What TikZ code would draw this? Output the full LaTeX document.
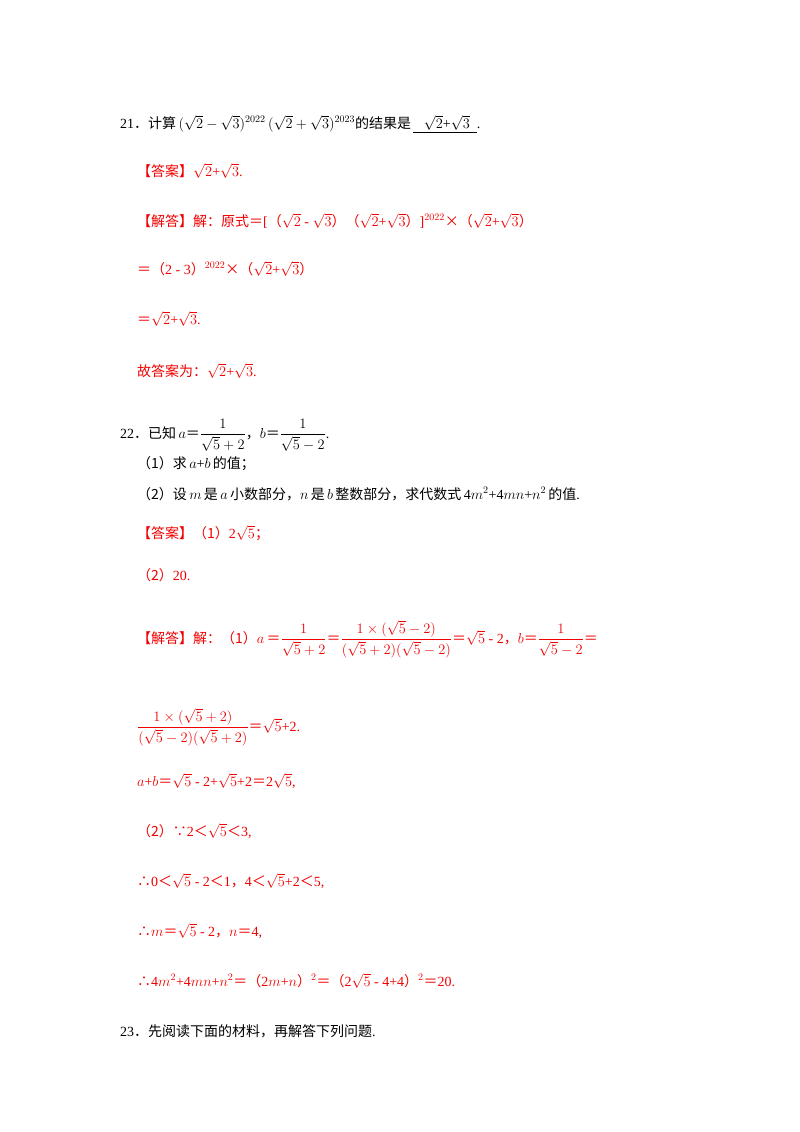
\documentclass[tikz,border=0pt]{standalone}
\usepackage{amsmath}
\usepackage{fontspec}
\setmainfont{Liberation Serif}
\newfontfamily\cjk{Noto Sans CJK SC}
\definecolor{ansred}{RGB}{240,0,0}
\newcommand{\zh}[1]{{\cjk #1}}
\newcommand{\EQ}{\zh{＝}}
\newcommand{\LT}{\zh{＜}}
\tikzset{ln/.style={anchor=base west,inner sep=0pt,font=\fontsize{14}{16}\selectfont},
  rd/.style={ln,text=ansred}}
\begin{document}
\begin{tikzpicture}[x=1pt,y=-1pt]
\useasboundingbox[fill=white] (0,0) rectangle (800,1132);
\node[ln] (q21) at (120,128) {21\zh{．计算}\,$(\sqrt{2}-\sqrt{3})^{2022}\,(\sqrt{2}+\sqrt{3})^{2023}$\zh{的结果是}\,\underline{\ \ \ $\sqrt{2}$+$\sqrt{3}$\ \ }.};
\node[rd] (a21) at (137,176) {\zh{【答案】}$\sqrt{2}$+$\sqrt{3}$.};
\node[rd] (s1) at (137,226) {\zh{【解答】解：原式}\EQ[\zh{（}$\sqrt{2}$ - $\sqrt{3}$\zh{）（}$\sqrt{2}$+$\sqrt{3}$\zh{）}]$^{\scriptstyle 2022}$\zh{×（}$\sqrt{2}$+$\sqrt{3}$\zh{）}};
\node[rd] (s2) at (137,274) {\EQ\zh{（}2 - 3\zh{）}$^{\scriptstyle 2022}$\zh{×（}$\sqrt{2}$+$\sqrt{3}$\zh{）}};
\node[rd] (s3) at (137,324) {\EQ$\sqrt{2}$+$\sqrt{3}$.};
\node[rd] (s4) at (137,376) {\zh{故答案为：}$\sqrt{2}$+$\sqrt{3}$.};
\node[ln] (q22) at (120,438) {22\zh{．已知}\,$a$\EQ$\dfrac{1}{\sqrt{5}+2}$\zh{，}$b$\EQ$\dfrac{1}{\sqrt{5}-2}$.};
\node[ln] (q22a) at (137,468) {\zh{（1）求}\,$a$+$b$\,\zh{的值；}};
\node[ln] (q22b) at (137,499) {\zh{（2）设}\,$m$\,\zh{是}\,$a$\,\zh{小数部分，}$n$\,\zh{是}\,$b$\,\zh{整数部分，求代数式}\,4$m^2$+4$mn$+$n^2$\,\zh{的值}.};
\node[rd] (a22) at (137,538) {\zh{【答案】（1）}2$\sqrt{5}$\zh{；}};
\node[rd] (a22b) at (137,580) {\zh{（2）}20.};
\node[rd] (t1) at (137,643) {\zh{【解答】解：（1）}$a$\,\EQ$\dfrac{1}{\sqrt{5}+2}$\EQ$\dfrac{1\times(\sqrt{5}-2)}{(\sqrt{5}+2)(\sqrt{5}-2)}$\EQ$\sqrt{5}$ - 2\zh{，}$b$\EQ$\dfrac{1}{\sqrt{5}-2}$\EQ};
\node[rd] (t2) at (137,731) {$\dfrac{1\times(\sqrt{5}+2)}{(\sqrt{5}-2)(\sqrt{5}+2)}$\EQ$\sqrt{5}$+2.};
\node[rd] (t3) at (137,786) {$a$+$b$\EQ$\sqrt{5}$ - 2+$\sqrt{5}$+2\EQ2$\sqrt{5}$,};
\node[rd] (t4) at (137,836) {\zh{（2）∵}2\LT$\sqrt{5}$\LT3,};
\node[rd] (t5) at (137,886) {\zh{∴}0\LT$\sqrt{5}$ - 2\LT1\zh{，}4\LT$\sqrt{5}$+2\LT5,};
\node[rd] (t6) at (137,936) {\zh{∴}$m$\EQ$\sqrt{5}$ - 2\zh{，}$n$\EQ4,};
\node[rd] (t7) at (137,986) {\zh{∴}4$m^2$+4$mn$+$n^2$\EQ\zh{（}2$m$+$n$\zh{）}$^2$\EQ\zh{（}2$\sqrt{5}$ - 4+4\zh{）}$^2$\EQ20.};
\node[ln] (q23) at (120,1036) {23\zh{．先阅读下面的材料，再解答下列问题}.};
\end{tikzpicture}
\end{document}
